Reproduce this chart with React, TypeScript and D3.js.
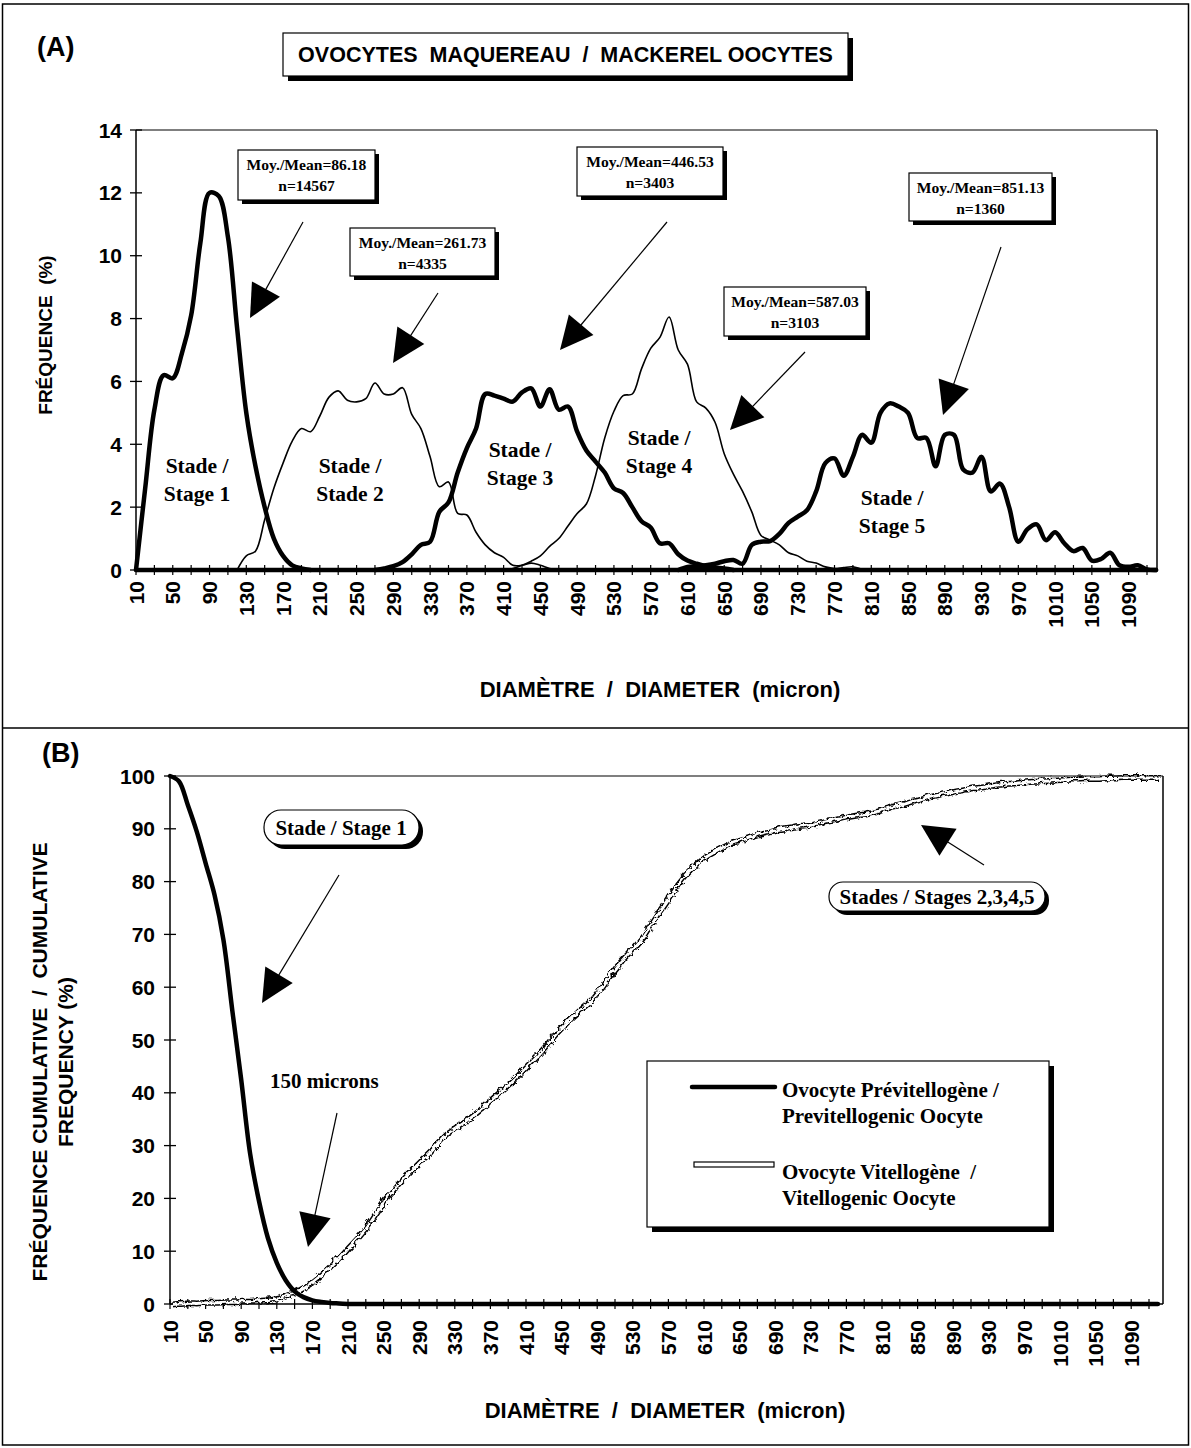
import React from 'react';
import * as d3 from 'd3';

const W = 1191;
const H = 1448;
const SANS = "'Liberation Sans', Arial, Helvetica, sans-serif";
const SERIF = "'Liberation Serif', 'Times New Roman', Times, serif";

// ---------- DATA ----------
// Tick labels (diameter, microns)
const xTickLabels = [10, 50, 90, 130, 170, 210, 250, 290, 330, 370, 410, 450, 490, 530, 570, 610, 650, 690, 730, 770, 810, 850, 890, 930, 970, 1010, 1050, 1090];
const yTicksA = [0, 2, 4, 6, 8, 10, 12, 14];
const yTicksB = [0, 10, 20, 30, 40, 50, 60, 70, 80, 90, 100];
const BIN = 10; // class width (microns)

// Panel A: frequency (%) per 10-micron class, each stage starts at given diameter
const stage1Start = 10;
const stage1 = [0, 2.6, 5.1, 6.2, 6.1, 6.9, 8.1, 10.4, 12.0, 11.9, 10.6, 7.7, 5.0, 3.3, 2.0, 1.0, 0.45, 0.15, 0.05, 0];
const stage2Start = 120;
const stage2 = [0, 0.45, 0.6, 1.6, 2.6, 3.4, 4.1, 4.5, 4.4, 4.9, 5.5, 5.7, 5.4, 5.35, 5.45, 5.95, 5.6, 5.6, 5.8, 4.95, 4.5, 3.6, 2.65, 2.8, 1.8, 1.75, 1.2, 0.8, 0.55, 0.4, 0.15, 0.15, 0.22, 0.15, 0.05, 0];
const stage3Start = 270;
const stage3 = [0, 0.05, 0.12, 0.25, 0.5, 0.8, 0.9, 1.85, 2.15, 3.1, 3.88, 4.5, 5.6, 5.55, 5.45, 5.36, 5.65, 5.78, 5.2, 5.75, 5.1, 5.2, 4.4, 3.8, 3.45, 3.1, 2.6, 2.45, 2.0, 1.55, 1.35, 0.85, 0.85, 0.5, 0.3, 0.2, 0.12, 0.08, 0.05, 0];
const stage4Start = 410;
const stage4 = [0, 0.05, 0.15, 0.28, 0.45, 0.75, 1.0, 1.4, 1.8, 2.1, 3.0, 4.2, 5.05, 5.55, 5.6, 6.4, 7.05, 7.4, 8.05, 7.0, 6.55, 5.35, 5.15, 4.7, 3.7, 3.05, 2.5, 1.85, 1.1, 0.95, 0.8, 0.55, 0.45, 0.28, 0.22, 0.1, 0.05, 0.08, 0.1, 0.03, 0];
const stage5Start = 600;
const stage5 = [0, 0.1, 0.12, 0.15, 0.2, 0.28, 0.32, 0.2, 0.8, 0.9, 0.92, 1.15, 1.5, 1.7, 1.9, 2.5, 3.4, 3.55, 3.0, 3.6, 4.3, 4.05, 5.0, 5.3, 5.2, 5.0, 4.2, 4.2, 3.3, 4.3, 4.3, 3.2, 3.1, 3.6, 2.5, 2.75, 2.0, 0.9, 1.3, 1.45, 0.95, 1.2, 0.85, 0.6, 0.7, 0.3, 0.35, 0.55, 0.15, 0.1, 0.15, 0.02, 0];

// Panel B: cumulative frequency (%)
const previtStart = 10;
const previtCum = [100, 99, 94.5, 89.5, 83.5, 77.5, 69, 55.6, 42.5, 28.5, 19.5, 12.5, 7.8, 4.5, 2.4, 1.3, 0.7, 0.4, 0.2, 0.1, 0];
const previtEnd = 1120;
const vitStart = 10;
const vitCum = [0.3, 0.4, 0.5, 0.5, 0.6, 0.6, 0.7, 0.7, 0.8, 0.8, 1.0, 1.1, 1.4, 2.0, 2.6, 3.5, 4.6, 6.0, 7.6, 9.3,
  11.2, 13.0, 15.0, 17.5, 20.0, 22.0, 23.9, 25.7, 27.4, 29.0, 30.9, 32.6, 33.7, 34.9, 36.2, 37.6, 39.0, 40.5, 42.0, 43.6,
  45.4, 47.1, 49.0, 51.0, 52.8, 54.5, 56.0, 57.5, 59.5, 61.8, 64.0, 66.0, 67.8, 69.8, 72.5, 75.0, 77.5, 80.0, 82.0, 83.6,
  85.0, 86.0, 86.9, 87.7, 88.2, 88.7, 89.2, 89.6, 90.0, 90.3, 90.6, 90.8, 91.1, 91.5, 91.8, 92.2, 92.6, 92.9, 93.1, 93.5,
  94.0, 94.5, 94.9, 95.4, 95.8, 96.3, 96.7, 97.0, 97.4, 97.7, 98.0, 98.2, 98.5, 98.7, 98.9, 99.0, 99.2, 99.3, 99.4, 99.5,
  99.6, 99.7, 99.7, 99.8, 99.8, 99.9, 99.9, 100, 100, 100, 100, 100];

// Annotations
const meanBoxes = [
  { l1: 'Moy./Mean=86.18', l2: 'n=14567', x: 238, y: 150, w: 137, h: 50, ax1: 303, ay1: 222, ax2: 250, ay2: 318 },
  { l1: 'Moy./Mean=261.73', l2: 'n=4335', x: 350, y: 228, w: 145, h: 48, ax1: 438, ay1: 293, ax2: 393, ay2: 363 },
  { l1: 'Moy./Mean=446.53', l2: 'n=3403', x: 577, y: 147, w: 146, h: 49, ax1: 667, ay1: 222, ax2: 560, ay2: 350 },
  { l1: 'Moy./Mean=587.03', l2: 'n=3103', x: 724, y: 287, w: 142, h: 49, ax1: 805, ay1: 352, ax2: 730, ay2: 430 },
  { l1: 'Moy./Mean=851.13', l2: 'n=1360', x: 909, y: 173, w: 143, h: 48, ax1: 1001, ay1: 247, ax2: 943, ay2: 415 },
];
const stageLabels = [
  { a: 'Stade /', b: 'Stage 1', x: 197, y: 473 },
  { a: 'Stade /', b: 'Stade 2', x: 350, y: 473 },
  { a: 'Stade /', b: 'Stage 3', x: 520, y: 457 },
  { a: 'Stade /', b: 'Stage 4', x: 659, y: 445 },
  { a: 'Stade /', b: 'Stage 5', x: 892, y: 505 },
];

// ---------- helpers ----------
function pts(start: number, vals: number[]): [number, number][] {
  return vals.map((v, i) => [start + i * BIN, v] as [number, number]);
}

function Arrow({ x1, y1, x2, y2, hl = 33, hw = 16 }: any) {
  const dx = x2 - x1, dy = y2 - y1;
  const L = Math.hypot(dx, dy);
  const ux = dx / L, uy = dy / L;
  const bx = x2 - ux * hl, by = y2 - uy * hl;
  const px = -uy, py = ux;
  return (
    <g>
      <line x1={x1} y1={y1} x2={bx + ux * 4} y2={by + uy * 4} stroke="#000" strokeWidth={1.2} />
      <polygon points={`${x2},${y2} ${bx + px * hw},${by + py * hw} ${bx - px * hw},${by - py * hw}`} fill="#000" />
    </g>
  );
}

function ShadowBox({ x, y, w, h, off = 5, rx = 0 }: any) {
  return (
    <g>
      <rect x={x + off} y={y + off} width={w} height={h} rx={rx} ry={rx} fill="#000" />
      <rect x={x} y={y} width={w} height={h} rx={rx} ry={rx} fill="#fff" stroke="#000" strokeWidth={1.2} />
    </g>
  );
}

export default function App() {
  // Panel A scales
  const xA = d3.scaleLinear().domain([10, 1110]).range([136, 1147]);
  const yA = d3.scaleLinear().domain([0, 14]).range([570, 130]);
  const rightA = 1157;
  // Panel B scales
  const xB = d3.scaleLinear().domain([10, 1110]).range([170, 1149]);
  const yB = d3.scaleLinear().domain([0, 100]).range([1304, 776]);
  const rightB = 1163;

  const lineA = d3.line<[number, number]>().x(d => xA(d[0])).y(d => yA(d[1])).curve(d3.curveCatmullRom.alpha(0.5));
  const lineB = d3.line<[number, number]>().x(d => xB(d[0])).y(d => yB(d[1])).curve(d3.curveCatmullRom.alpha(0.5));

  const minorTicks = d3.range(10, 1111, 20);

  const series = [
    { s: stage1Start, v: stage1, thick: true },
    { s: stage2Start, v: stage2, thick: false },
    { s: stage3Start, v: stage3, thick: true },
    { s: stage4Start, v: stage4, thick: false },
    { s: stage5Start, v: stage5, thick: true },
  ];

  const previtPts = pts(previtStart, previtCum);
  const previtPath = lineB(previtPts) + ` L${xB(previtEnd)},${yB(0)}`;
  const vitPath = lineB(pts(vitStart, vitCum)) || '';

  const tickFont = { fontFamily: SANS, fontWeight: 700, fontSize: 21 } as any;

  return (
    <svg width={W} height={H} viewBox={`0 0 ${W} ${H}`} style={{ position: 'absolute', left: 0, top: 0, background: '#fff' }}>
      <defs>
        <filter id="wig" x="-5%" y="-5%" width="110%" height="110%">
          <feTurbulence type="turbulence" baseFrequency="0.13 0.13" numOctaves={1} seed={5} result="t" />
          <feDisplacementMap in="SourceGraphic" in2="t" scale={5} xChannelSelector="R" yChannelSelector="G" />
        </filter>
      </defs>
      <rect x={0} y={0} width={W} height={H} fill="#fff" />
      {/* outer frame */}
      <rect x={2.5} y={4} width={1186} height={1441} fill="none" stroke="#000" strokeWidth={1.5} />
      <line x1={2.5} x2={1188.5} y1={728} y2={728} stroke="#000" strokeWidth={1.5} />

      {/* ================= PANEL A ================= */}
      <text x={37} y={56} fontFamily={SANS} fontWeight={700} fontSize={27}>(A)</text>
      <ShadowBox x={283} y={33} w={565} h={43} />
      <text x={565.5} y={62} textAnchor="middle" fontFamily={SANS} fontWeight={700} fontSize={21.5} style={{ whiteSpace: 'pre' }}>{'OVOCYTES  MAQUEREAU  /  MACKEREL OOCYTES'}</text>

      {/* frame of plot */}
      <line x1={xA(10)} x2={rightA} y1={yA(14)} y2={yA(14)} stroke="#000" strokeWidth={1.2} />
      <line x1={rightA} x2={rightA} y1={yA(14)} y2={yA(0)} stroke="#000" strokeWidth={1.5} />
      <line x1={xA(10)} x2={xA(10)} y1={yA(14)} y2={yA(0)} stroke="#000" strokeWidth={1.5} />
      {yTicksA.map(t => (
        <g key={'ya' + t}>
          <line x1={xA(10) - 6} x2={xA(10) + 6} y1={yA(t)} y2={yA(t)} stroke="#000" strokeWidth={1.3} />
          <text x={xA(10) - 14} y={yA(t) + 7.5} textAnchor="end" {...tickFont}>{t}</text>
        </g>
      ))}
      {minorTicks.map(t => (
        <line key={'xa' + t} x1={xA(t)} x2={xA(t)} y1={yA(0) - 5} y2={yA(0) + 5} stroke="#000" strokeWidth={1.2} />
      ))}
      {xTickLabels.map(t => (
        <text key={'xla' + t} transform={`translate(${xA(t) + 7.5},581) rotate(-90)`} textAnchor="end" {...tickFont}>{t}</text>
      ))}
      <text transform={`translate(52,335) rotate(-90)`} textAnchor="middle" fontFamily={SANS} fontWeight={700} fontSize={19} style={{ whiteSpace: 'pre' }}>{'FRÉQUENCE  (%)'}</text>
      <text x={660} y={697} textAnchor="middle" fontFamily={SANS} fontWeight={700} fontSize={22} style={{ whiteSpace: 'pre' }}>{'DIAMÈTRE  /  DIAMETER  (micron)'}</text>

      {/* series */}
      {series.map((s, i) => (
        <path key={'s' + i} d={lineA(pts(s.s, s.v)) || ''} fill="none" stroke="#000" strokeWidth={s.thick ? 4.5 : 1.6} strokeLinejoin="round" strokeLinecap="round" />
      ))}
      <line x1={xA(10)} x2={rightA} y1={yA(0)} y2={yA(0)} stroke="#000" strokeWidth={4.5} />

      {/* stage labels */}
      {stageLabels.map((s, i) => (
        <g key={'sl' + i} fontFamily={SERIF} fontWeight={700} fontSize={21.5} textAnchor="middle">
          <text x={s.x} y={s.y}>{s.a}</text>
          <text x={s.x} y={s.y + 28}>{s.b}</text>
        </g>
      ))}

      {/* mean boxes */}
      {meanBoxes.map((b, i) => (
        <g key={'mb' + i}>
          <ShadowBox x={b.x} y={b.y} w={b.w} h={b.h} off={4} />
          <text x={b.x + b.w / 2} y={b.y + 20} textAnchor="middle" fontFamily={SERIF} fontWeight={700} fontSize={15.6}>{b.l1}</text>
          <text x={b.x + b.w / 2} y={b.y + 41} textAnchor="middle" fontFamily={SERIF} fontWeight={700} fontSize={15.6}>{b.l2}</text>
          <Arrow x1={b.ax1} y1={b.ay1} x2={b.ax2} y2={b.ay2} />
        </g>
      ))}

      {/* ================= PANEL B ================= */}
      <text x={42} y={762} fontFamily={SANS} fontWeight={700} fontSize={27}>(B)</text>
      <line x1={xB(10)} x2={rightB} y1={yB(100)} y2={yB(100)} stroke="#000" strokeWidth={1.2} />
      <line x1={rightB} x2={rightB} y1={yB(100)} y2={yB(0)} stroke="#000" strokeWidth={1.5} />
      <line x1={xB(10)} x2={xB(10)} y1={yB(100)} y2={yB(0)} stroke="#000" strokeWidth={1.5} />
      <line x1={xB(10)} x2={rightB} y1={yB(0)} y2={yB(0)} stroke="#000" strokeWidth={1.5} />
      {yTicksB.map(t => (
        <g key={'yb' + t}>
          <line x1={xB(10) - 6} x2={xB(10) + 6} y1={yB(t)} y2={yB(t)} stroke="#000" strokeWidth={1.3} />
          <text x={xB(10) - 15} y={yB(t) + 7.5} textAnchor="end" {...tickFont}>{t}</text>
        </g>
      ))}
      {minorTicks.map(t => (
        <line key={'xb' + t} x1={xB(t)} x2={xB(t)} y1={yB(0) - 5} y2={yB(0) + 5} stroke="#000" strokeWidth={1.2} />
      ))}
      {xTickLabels.map(t => (
        <text key={'xlb' + t} transform={`translate(${xB(t) + 7.5},1320) rotate(-90)`} textAnchor="end" {...tickFont}>{t}</text>
      ))}
      <text transform={`translate(47,1062) rotate(-90)`} textAnchor="middle" fontFamily={SANS} fontWeight={700} fontSize={21} style={{ whiteSpace: 'pre' }}>{'FRÉQUENCE CUMULATIVE  /  CUMULATIVE'}</text>
      <text transform={`translate(73,1062) rotate(-90)`} textAnchor="middle" fontFamily={SANS} fontWeight={700} fontSize={21} style={{ whiteSpace: 'pre' }}>{'FREQUENCY (%)'}</text>
      <text x={665} y={1418} textAnchor="middle" fontFamily={SANS} fontWeight={700} fontSize={22} style={{ whiteSpace: 'pre' }}>{'DIAMÈTRE  /  DIAMETER  (micron)'}</text>

      {/* vitellogenic: white line with black outline */}
      <g filter="url(#wig)">
        <path d={vitPath} fill="none" stroke="#000" strokeWidth={6} strokeLinejoin="round" />
        <path d={vitPath} fill="none" stroke="#fff" strokeWidth={3} strokeLinejoin="round" />
      </g>
      {/* previtellogenic: thick black */}
      <path d={previtPath} fill="none" stroke="#000" strokeWidth={4.5} strokeLinejoin="round" strokeLinecap="round" />

      {/* annotations B */}
      <ShadowBox x={264} y={810} w={155} h={35} off={4} rx={17} />
      <text x={341} y={835} textAnchor="middle" fontFamily={SERIF} fontWeight={700} fontSize={21}>Stade / Stage 1</text>
      <Arrow x1={339} y1={875} x2={262} y2={1003} />
      <text x={270} y={1088} fontFamily={SERIF} fontWeight={700} fontSize={21}>150 microns</text>
      <Arrow x1={337} y1={1113} x2={308} y2={1247} />
      <ShadowBox x={829} y={882} w={216} h={29} off={4} rx={14} />
      <text x={937} y={904} textAnchor="middle" fontFamily={SERIF} fontWeight={700} fontSize={21}>Stades / Stages 2,3,4,5</text>
      <Arrow x1={984} y1={865} x2={921} y2={825} hl={32} hw={16} />

      {/* legend */}
      <ShadowBox x={647} y={1061} w={402} h={166} off={5} />
      <line x1={692} x2={775} y1={1087} y2={1087} stroke="#000" strokeWidth={4.5} strokeLinecap="round" />
      <text x={782} y={1097} fontFamily={SERIF} fontWeight={700} fontSize={21}>Ovocyte Prévitellogène /</text>
      <text x={782} y={1123} fontFamily={SERIF} fontWeight={700} fontSize={21}>Previtellogenic Oocyte</text>
      <rect x={694} y={1162} width={80} height={5} fill="#fff" stroke="#000" strokeWidth={1.2} />
      <text x={782} y={1179} fontFamily={SERIF} fontWeight={700} fontSize={21} style={{ whiteSpace: 'pre' }}>{'Ovocyte Vitellogène  /'}</text>
      <text x={782} y={1205} fontFamily={SERIF} fontWeight={700} fontSize={21}>Vitellogenic Oocyte</text>
    </svg>
  );
}
